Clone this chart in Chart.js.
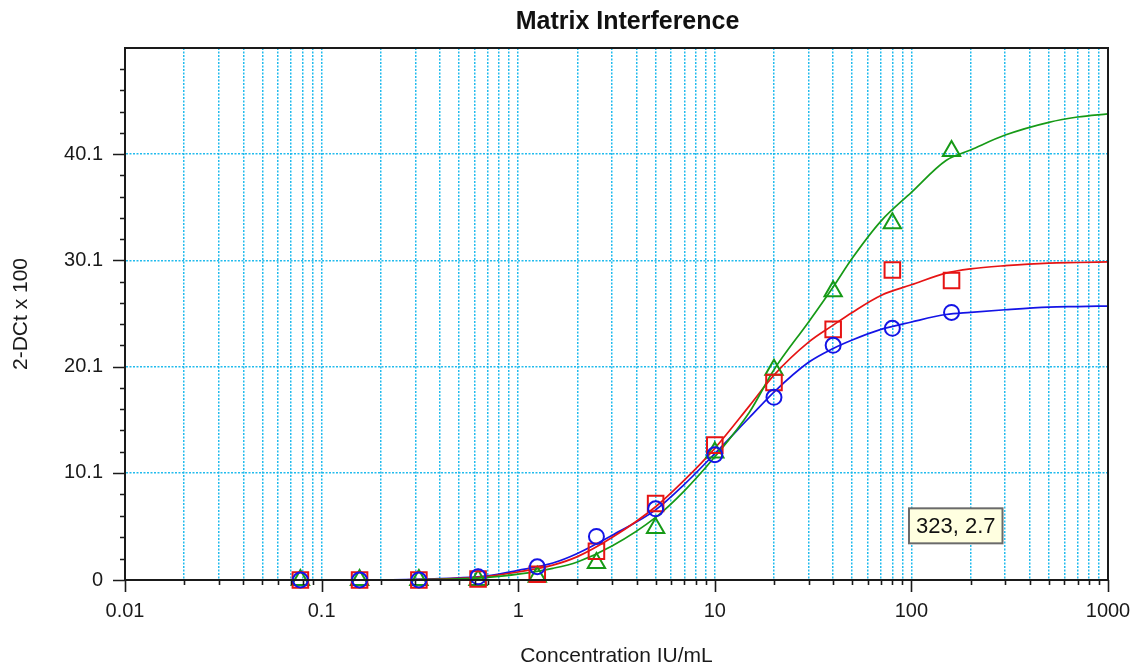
<!DOCTYPE html>
<html><head><meta charset="utf-8">
<script src="https://cdn.jsdelivr.net/npm/chart.js@4"></script>
<style>html,body{margin:0;padding:0;background:#fff;overflow:hidden}</style>
</head><body>
<canvas id="c" width="1133" height="669"></canvas>
<script>
// ---- text ----
const chartTitle = 'Matrix Interference';
const xAxisTitle = 'Concentration IU/mL';
const yAxisTitle = '2-DCt x 100';
const readoutText = '323, 2.7';
const readoutPoint = [323, 2.7];

// ---- measured points ----
const concentrations = [0.078, 0.156, 0.3125, 0.625, 1.25, 2.5, 5, 10, 20, 40, 80, 160];
const blueCircles    = [0, 0, 0, 0.3, 1.25, 4.1, 6.7, 11.8, 17.2, 22.1, 23.7, 25.2];
const redSquares     = [0, 0, 0, 0.1, 0.55, 2.7, 7.2, 12.7, 18.6, 23.6, 29.2, 28.2];
const greenTriangles = [0, 0, 0, 0, 0.3, 1.6, 4.9, 12.0, 19.8, 27.2, 33.6, 40.4];

// ---- fitted curves ----
const curveX     = [0.2, 0.3, 0.5, 0.7, 1, 1.5, 2, 3, 5, 7, 10, 15, 20, 30, 40, 50, 70, 100, 150, 200, 300, 500, 700, 1000];
const blueCurve  = [0, 0.05, 0.2, 0.4, 0.9, 1.6, 2.5, 4.2, 6.6, 9.0, 11.9, 15.3, 17.7, 20.5, 21.8, 22.6, 23.6, 24.3, 25.0, 25.2, 25.45, 25.7, 25.75, 25.8];
const redCurve   = [0, 0.03, 0.15, 0.35, 0.75, 1.4, 2.2, 4.0, 6.9, 9.4, 12.4, 16.4, 19.3, 22.4, 24.0, 25.2, 26.8, 27.8, 28.9, 29.3, 29.6, 29.85, 29.9, 29.95];
const greenCurve = [0, 0.02, 0.1, 0.25, 0.55, 1.1, 1.7, 3.2, 5.9, 8.4, 11.6, 15.8, 19.8, 24.3, 27.6, 30.3, 33.8, 36.5, 39.5, 40.5, 41.9, 43.1, 43.6, 43.9];

// ---- ticks ----
const xTickLabels = ['0.01', '0.1', '1', '10', '100', '1000'];
const xMinorMultipliers = [2, 3, 4, 5, 6, 7, 8, 9];
const yTickLabels = ['0', '10.1', '20.1', '30.1', '40.1'];
const yMinorTicks = [2.02, 4.04, 6.06, 8.08, 12.1, 14.1, 16.1, 18.1, 22.1, 24.1, 26.1, 28.1, 32.1, 34.1, 36.1, 38.1, 42.1, 44.1, 46.1, 48.1];
const yMax = 50.1;

const xMajorValues = xTickLabels.map(Number);
const yMajorValues = yTickLabels.map(Number);

const BLUE = '#1414E6', RED = '#E61414', GREEN = '#169A16';
const GRID = 'rgba(10,180,235,0.9)';
const FONT = "'Liberation Sans', Arial, sans-serif";

function xy(xs, ys) { return xs.map((x, i) => ({x: x, y: ys[i]})); }

function curve(label, ys, color) {
  return { label: label, data: xy(curveX, ys), showLine: true, borderColor: color, borderWidth: 1.7,
           pointRadius: 0, cubicInterpolationMode: 'monotone', fill: false };
}
function markers(label, ys, color, style, r) {
  return { label: label, data: xy(concentrations, ys), showLine: false, pointStyle: style, pointRadius: r,
           pointBorderWidth: 2, borderColor: color, backgroundColor: 'rgba(0,0,0,0)', clip: false };
}

const tickMarks = {
  id: 'tickMarks',
  afterDraw(chart) {
    const ctx = chart.ctx, a = chart.chartArea;
    const xs = chart.scales.x, ys = chart.scales.y;
    ctx.save();
    ctx.strokeStyle = '#1a1a1a';
    ctx.lineWidth = 2;
    ctx.strokeRect(a.left, a.top, a.right - a.left, a.bottom - a.top);
    ctx.lineWidth = 1.6;
    ctx.beginPath();
    xs.ticks.forEach(t => {
      const p = Math.round(xs.getPixelForValue(t.value)) + 0.5;
      const len = xMajorValues.includes(t.value) ? 12 : 5;
      ctx.moveTo(p, a.bottom); ctx.lineTo(p, a.bottom + len);
    });
    ys.ticks.forEach(t => {
      const p = Math.round(ys.getPixelForValue(t.value)) + 0.5;
      const len = yMajorValues.includes(t.value) ? 12 : 5;
      ctx.moveTo(a.left, p); ctx.lineTo(a.left - len, p);
    });
    ctx.stroke();
    ctx.restore();
  }
};

const readout = {
  id: 'readout',
  afterDraw(chart) {
    const ctx = chart.ctx;
    const px = chart.scales.x.getPixelForValue(readoutPoint[0]);
    const py = chart.scales.y.getPixelForValue(readoutPoint[1]);
    ctx.save();
    ctx.font = '22px ' + FONT;
    const w = ctx.measureText(readoutText).width + 14;
    const h = 35;
    const right = px - 9, bottom = py - 8;
    ctx.fillStyle = '#FFFFE0';
    ctx.fillRect(right - w, bottom - h, w, h);
    ctx.strokeStyle = '#6a6a6a';
    ctx.lineWidth = 2;
    ctx.strokeRect(right - w, bottom - h, w, h);
    ctx.fillStyle = '#111';
    ctx.textBaseline = 'middle';
    ctx.textAlign = 'center';
    ctx.fillText(readoutText, right - w / 2, bottom - h / 2 + 1);
    ctx.restore();
  }
};

const titleShift = {
  id: 'titleShift',
  afterLayout(chart) {
    const tb = chart.titleBlock, a = chart.chartArea;
    if (tb) { tb.left = a.left + 22; tb.right = a.right; }
  }
};

new Chart(document.getElementById('c'), {
  type: 'scatter',
  data: {
    datasets: [
      markers('Blue', blueCircles, BLUE, 'circle', 7.5),
      markers('Red', redSquares, RED, 'rect', 11),
      markers('Green', greenTriangles, GREEN, 'triangle', 10),
      curve('Green fit', greenCurve, GREEN),
      curve('Red fit', redCurve, RED),
      curve('Blue fit', blueCurve, BLUE)
    ]
  },
  options: {
    responsive: false,
    animation: false,
    events: [],
    layout: { padding: { left: 0, right: 25, top: 0, bottom: 0 } },
    plugins: {
      legend: { display: false },
      tooltip: { enabled: false },
      title: { display: true, text: chartTitle, color: '#111',
               font: { family: FONT, size: 25, weight: 'bold' }, padding: { top: 7, bottom: 11 } }
    },
    scales: {
      x: {
        type: 'logarithmic', min: 0.01, max: 1000,
        afterBuildTicks(scale) {
          const t = [];
          xMajorValues.forEach((d, i) => {
            t.push({ value: d, major: true });
            if (i < xMajorValues.length - 1) xMinorMultipliers.forEach(m => t.push({ value: m * d, major: false }));
          });
          scale.ticks = t;
        },
        afterFit(scale) { scale.height = 89; scale.paddingLeft = 0; scale.paddingRight = 0; },
        ticks: {
          autoSkip: false, maxRotation: 0, minRotation: 0, padding: 19, color: '#1a1a1a',
          font: { family: FONT, size: 20 },
          callback(v) { const i = xMajorValues.indexOf(v); return i >= 0 ? xTickLabels[i] : ''; }
        },
        grid: { drawTicks: false, lineWidth: 1.5, color: GRID },
        border: { display: true, color: '#1a1a1a', width: 2, dash: [2, 1.5] },
        title: { display: true, text: xAxisTitle, color: '#1a1a1a', font: { family: FONT, size: 21 }, padding: { top: 0, bottom: 0 } }
      },
      y: {
        type: 'linear', min: 0, max: yMax,
        afterBuildTicks(scale) {
          scale.ticks = yMajorValues.concat(yMinorTicks).sort((a, b) => a - b).map(v => ({ value: v }));
        },
        afterFit(scale) { scale.width = 125; scale.paddingTop = 0; scale.paddingBottom = 0; },
        ticks: {
          autoSkip: false, padding: 22, color: '#1a1a1a', font: { family: FONT, size: 20 },
          callback(v) { const i = yMajorValues.indexOf(v); return i >= 0 ? yTickLabels[i] : ''; }
        },
        grid: { drawTicks: false, lineWidth: 1.5,
                color: ctx => (ctx.tick && yMajorValues.includes(ctx.tick.value) && ctx.tick.value !== 0) ? GRID : 'rgba(0,0,0,0)' },
        border: { display: true, color: '#1a1a1a', width: 2, dash: [2, 1.5] },
        title: { display: true, text: yAxisTitle, color: '#1a1a1a', font: { family: FONT, size: 21 }, padding: { top: 9, bottom: 0 } }
      }
    }
  },
  plugins: [tickMarks, readout, titleShift]
});
</script>
</body></html>
